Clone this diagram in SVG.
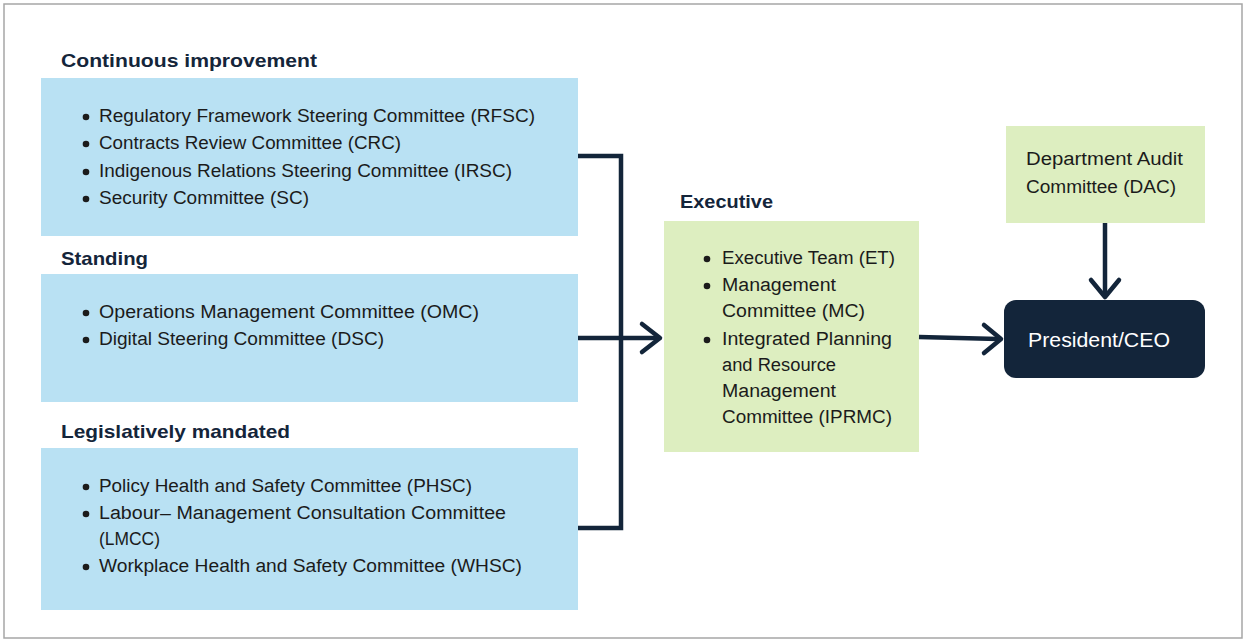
<svg xmlns="http://www.w3.org/2000/svg" width="1248" height="643" viewBox="0 0 1248 643">
<style>
.t{font-family:"Liberation Sans",Arial,sans-serif;font-size:18px;fill:#1b1b1b}
.h{font-family:"Liberation Sans",Arial,sans-serif;font-size:19px;font-weight:bold;fill:#14253a}
.blue{fill:#b9e1f3}
.green{fill:#ddeec0}
.con{fill:none;stroke:#13253a;stroke-width:4.5;stroke-linejoin:miter}
.head{fill:none;stroke:#13253a;stroke-width:4.5;stroke-linecap:round;stroke-linejoin:round}
</style>
<rect x="0" y="0" width="1248" height="643" fill="#ffffff"/>
<rect x="4" y="4" width="1238" height="634" fill="#ffffff" stroke="#a6a6a6" stroke-width="1.5"/>

<g id="continuous">
<text class="h" x="61" y="67" textLength="256" lengthAdjust="spacingAndGlyphs">Continuous improvement</text>
<rect class="blue" x="41" y="78" width="537" height="158"/>
<g class="t">
<circle cx="86" cy="117" r="3.3" fill="#1b1b1b"/><text class="t" x="99" y="122" textLength="436" lengthAdjust="spacingAndGlyphs">Regulatory Framework Steering Committee (RFSC)</text>
<circle cx="86" cy="144" r="3.3" fill="#1b1b1b"/><text class="t" x="99" y="149" textLength="302" lengthAdjust="spacingAndGlyphs">Contracts Review Committee (CRC)</text>
<circle cx="86" cy="172" r="3.3" fill="#1b1b1b"/><text class="t" x="99" y="177" textLength="413" lengthAdjust="spacingAndGlyphs">Indigenous Relations Steering Committee (IRSC)</text>
<circle cx="86" cy="199" r="3.3" fill="#1b1b1b"/><text class="t" x="99" y="204" textLength="210" lengthAdjust="spacingAndGlyphs">Security Committee (SC)</text>
</g>
</g>

<g id="standing">
<text class="h" x="61" y="265" textLength="87" lengthAdjust="spacingAndGlyphs">Standing</text>
<rect class="blue" x="41" y="274" width="537" height="128"/>
<circle cx="86" cy="313" r="3.3" fill="#1b1b1b"/><text class="t" x="99" y="318" textLength="380" lengthAdjust="spacingAndGlyphs">Operations Management Committee (OMC)</text>
<circle cx="86" cy="340" r="3.3" fill="#1b1b1b"/><text class="t" x="99" y="345" textLength="285" lengthAdjust="spacingAndGlyphs">Digital Steering Committee (DSC)</text>
</g>

<g id="legislative">
<text class="h" x="61" y="438" textLength="229" lengthAdjust="spacingAndGlyphs">Legislatively mandated</text>
<rect class="blue" x="41" y="448" width="537" height="162"/>
<circle cx="86" cy="487" r="3.3" fill="#1b1b1b"/><text class="t" x="99" y="492" textLength="373" lengthAdjust="spacingAndGlyphs">Policy Health and Safety Committee (PHSC)</text>
<circle cx="86" cy="514" r="3.3" fill="#1b1b1b"/><text class="t" x="99" y="519" textLength="407" lengthAdjust="spacingAndGlyphs">Labour– Management Consultation Committee</text>
<text class="t" x="99" y="545" textLength="61" lengthAdjust="spacingAndGlyphs">(LMCC)</text>
<circle cx="86" cy="567" r="3.3" fill="#1b1b1b"/><text class="t" x="99" y="572" textLength="423" lengthAdjust="spacingAndGlyphs">Workplace Health and Safety Committee (WHSC)</text>
</g>

<g id="executive">
<text class="h" x="680" y="208" textLength="93" lengthAdjust="spacingAndGlyphs">Executive</text>
<rect class="green" x="664" y="221" width="255" height="231"/>
<circle cx="707" cy="259" r="3.3" fill="#1b1b1b"/><text class="t" x="722" y="264" textLength="173" lengthAdjust="spacingAndGlyphs">Executive Team (ET)</text>
<circle cx="707" cy="286" r="3.3" fill="#1b1b1b"/><text class="t" x="722" y="291" textLength="114" lengthAdjust="spacingAndGlyphs">Management</text>
<text class="t" x="722" y="317" textLength="143" lengthAdjust="spacingAndGlyphs">Committee (MC)</text>
<circle cx="707" cy="340" r="3.3" fill="#1b1b1b"/><text class="t" x="722" y="345" textLength="170" lengthAdjust="spacingAndGlyphs">Integrated Planning</text>
<text class="t" x="722" y="371" textLength="114" lengthAdjust="spacingAndGlyphs">and Resource</text>
<text class="t" x="722" y="397" textLength="114" lengthAdjust="spacingAndGlyphs">Management</text>
<text class="t" x="722" y="423" textLength="170" lengthAdjust="spacingAndGlyphs">Committee (IPRMC)</text>
</g>

<g id="dac">
<rect class="green" x="1006" y="126" width="199" height="97"/>
<text class="t" x="1026" y="165" textLength="157" lengthAdjust="spacingAndGlyphs">Department Audit</text>
<text class="t" x="1026" y="193" textLength="150" lengthAdjust="spacingAndGlyphs">Committee (DAC)</text>
</g>

<g id="president">
<rect x="1004" y="300" width="201" height="78" rx="12" ry="12" fill="#13253a"/>
<text x="1028" y="347" font-family="'Liberation Sans',Arial,sans-serif" font-size="20" fill="#ffffff" textLength="142" lengthAdjust="spacingAndGlyphs">President/CEO</text>
</g>

<g id="connectors">
<polyline class="con" points="578,156 621,156 621,528 578,528"/>
<line class="con" x1="578" y1="338" x2="658" y2="338"/>
<polyline class="head" points="642,324 660,338 642,352"/>
<line class="con" x1="919" y1="337" x2="998" y2="339"/>
<polyline class="head" points="984,325 1001,339 984,353"/>
<line class="con" x1="1105" y1="223" x2="1105" y2="294"/>
<polyline class="head" points="1091,280 1105,297 1119,280"/>
</g>
</svg>
